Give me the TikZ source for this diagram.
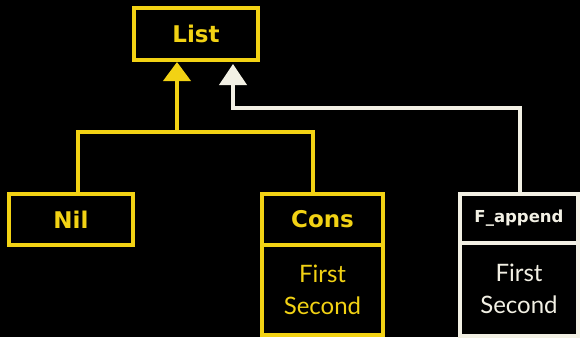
\documentclass[tikz,border=0pt]{standalone}
\usepackage{fontspec}
\setmainfont{Lato}
\newfontfamily\titlefont{DejaVu Sans}
\usetikzlibrary{arrows.meta}
\definecolor{chalkyellow}{RGB}{242,210,20}
\definecolor{chalkwhite}{RGB}{242,240,228}
\tikzset{
  ybox/.style={draw=chalkyellow, line width=4pt, rectangle, inner sep=0pt, outer sep=0pt},
  wbox/.style={draw=chalkwhite, line width=4pt, rectangle, inner sep=0pt, outer sep=0pt},
  title/.style={font=\titlefont\fontsize{23}{27}\selectfont\bfseries},
  body/.style={font=\fontsize{24}{32}\selectfont, align=center},
  yline/.style={draw=chalkyellow, line width=4pt},
  wline/.style={draw=chalkwhite, line width=4pt},
  ytip/.style={-{Triangle[width=27pt,length=19pt,fill=chalkyellow]}},
  wtip/.style={-{Triangle[width=27pt,length=21pt,fill=chalkwhite]}}
}
\begin{document}
\begin{tikzpicture}[x=1pt,y=-1pt]
\fill[black] (0,0) rectangle (580,337);
\useasboundingbox (0,0) rectangle (580,337);

% List
\node[ybox, minimum width=124pt, minimum height=52pt, text=chalkyellow, title] (List) at (196,34) {List};

% Nil
\node[ybox, minimum width=124pt, minimum height=51pt, text=chalkyellow, title] (Nil) at (71,219.5) {Nil};

% Cons
\node[ybox, minimum width=121pt, minimum height=51pt, text=chalkyellow, title] (Cons) at (322.5,219) {Cons};
\node[ybox, minimum width=121pt, minimum height=90pt, anchor=north, text=chalkyellow, body] (ConsBody) at (Cons.south) {First\\Second};

% F_append
\node[wbox, minimum width=118pt, minimum height=49pt, text=chalkwhite, font=\titlefont\fontsize{16.5}{20}\selectfont\bfseries] (Fapp) at (519,218) {F\_append};
\node[wbox, minimum width=118pt, minimum height=93pt, anchor=north, text=chalkwhite, body] (FBody) at (Fapp.south) {First\\Second};

% junction coordinates
\coordinate (jl) at (78,132);
\coordinate (jr) at (313,132);
\coordinate (jm) at (177,132);
\coordinate (w1) at (233,108);
\coordinate (w2) at (520,108);

% yellow inheritance tree
\draw[yline, line join=miter] (Nil.north -| jl) -- (jl) -- (jr) -- (Cons.north -| jr);
\draw[yline, ytip] (jm) -- ([yshift=-2pt]jm |- List.south);

% white inheritance
\draw[wline, wtip, line join=miter] (Fapp.north -| w2) -- (w2) -- (w1) -- ([yshift=-4pt]w1 |- List.south);
\end{tikzpicture}
\end{document}
